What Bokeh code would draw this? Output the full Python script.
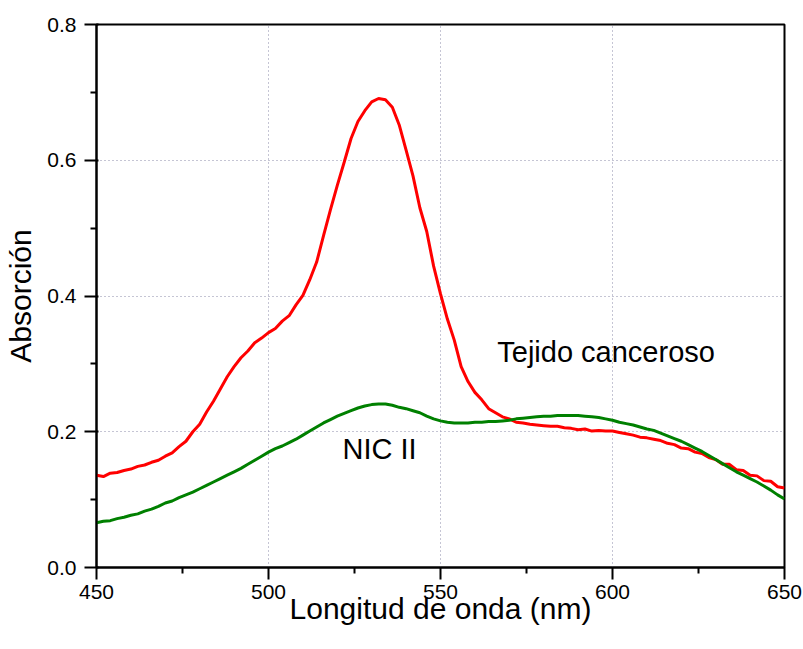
from bokeh.plotting import figure
from bokeh.models import Range1d, Label, NumeralTickFormatter, FixedTicker
from bokeh.embed import file_html
from bokeh.resources import INLINE

# wavelength grid (nm), every 2 nm from 450 to 650
wavelength = list(range(450, 651, 2))

tejido_canceroso = [
    0.136, 0.134, 0.139, 0.140, 0.143, 0.145, 0.149, 0.151, 0.155, 0.158,
    0.164, 0.169, 0.178, 0.186, 0.200, 0.211, 0.229, 0.245, 0.263, 0.281,
    0.296, 0.309, 0.319, 0.331, 0.338, 0.346, 0.352, 0.363, 0.371, 0.387,
    0.401, 0.424, 0.450, 0.489, 0.527, 0.563, 0.597, 0.632, 0.657, 0.673,
    0.686, 0.691, 0.689, 0.678, 0.652, 0.615, 0.577, 0.530, 0.495, 0.444,
    0.403, 0.366, 0.335, 0.296, 0.274, 0.258, 0.247, 0.234, 0.228, 0.222,
    0.219, 0.214, 0.213, 0.211, 0.210, 0.209, 0.208, 0.208, 0.206, 0.205,
    0.203, 0.204, 0.201, 0.202, 0.201, 0.201, 0.199, 0.197, 0.195, 0.192,
    0.191, 0.189, 0.187, 0.183, 0.181, 0.176, 0.175, 0.170, 0.168, 0.162,
    0.159, 0.152, 0.152, 0.144, 0.143, 0.136, 0.135, 0.128, 0.127, 0.119,
    0.117,
]

nic_ii = [
    0.066, 0.068, 0.069, 0.072, 0.074, 0.077, 0.079, 0.083, 0.086, 0.090,
    0.095, 0.098, 0.103, 0.107, 0.111, 0.116, 0.121, 0.126, 0.131, 0.136,
    0.141, 0.146, 0.152, 0.158, 0.164, 0.170, 0.175, 0.179, 0.184, 0.189,
    0.195, 0.201, 0.207, 0.213, 0.218, 0.223, 0.227, 0.231, 0.235, 0.238,
    0.240, 0.241, 0.241, 0.239, 0.236, 0.234, 0.231, 0.228, 0.223, 0.219,
    0.216, 0.214, 0.213, 0.213, 0.213, 0.214, 0.214, 0.215, 0.215, 0.216,
    0.217, 0.219, 0.220, 0.221, 0.222, 0.223, 0.223, 0.224, 0.224, 0.224,
    0.224, 0.223, 0.222, 0.221, 0.219, 0.217, 0.214, 0.212, 0.210, 0.207,
    0.204, 0.202, 0.198, 0.194, 0.190, 0.186, 0.181, 0.176, 0.171, 0.165,
    0.159, 0.153, 0.147, 0.141, 0.136, 0.131, 0.126, 0.120, 0.114, 0.107,
    0.101,
]

x_ticks = [450, 500, 550, 600, 650]
x_minor = [475, 525, 575, 625]
y_ticks = [0.0, 0.2, 0.4, 0.6, 0.8]
y_minor = [0.1, 0.3, 0.5, 0.7]

FONT = "Liberation Sans"

p = figure(width=803, height=649, output_backend="svg", toolbar_location=None,
           x_range=Range1d(450, 650), y_range=Range1d(0, 0.8),
           min_border_left=96, min_border_right=19, min_border_top=24, min_border_bottom=82,
           x_axis_label="Longitud de onda (nm)", y_axis_label="Absorción")
p.outline_line_color = "black"
p.outline_line_width = 2

p.line(wavelength, tejido_canceroso, line_color="#ff0000", line_width=3)
p.line(wavelength, nic_ii, line_color="#008000", line_width=3)

for ax in (p.xaxis[0], p.yaxis[0]):
    ax.axis_line_color = "black"
    ax.axis_line_width = 2
    ax.major_tick_line_color = "black"
    ax.minor_tick_line_color = "black"
    ax.major_tick_line_width = 2
    ax.minor_tick_line_width = 2
    ax.major_tick_out = 12
    ax.minor_tick_out = 6
    ax.major_label_text_font = FONT
    ax.major_label_text_font_size = "21px"
    ax.major_label_text_color = "black"
    ax.axis_label_text_font = FONT
    ax.axis_label_text_font_size = "30px"
    ax.axis_label_text_font_style = "normal"
    ax.axis_label_text_color = "black"

p.xaxis[0].major_tick_in = 0
p.xaxis[0].minor_tick_in = 0

p.xaxis[0].ticker = FixedTicker(ticks=x_ticks, minor_ticks=x_minor)
p.yaxis[0].ticker = FixedTicker(ticks=y_ticks, minor_ticks=y_minor)
p.yaxis[0].formatter = NumeralTickFormatter(format="0.0")
p.xaxis[0].major_label_standoff = 5
p.yaxis[0].major_label_standoff = 8
p.xaxis[0].axis_label_standoff = -10
p.yaxis[0].axis_label_standoff = 7

p.xgrid.ticker = FixedTicker(ticks=x_ticks)
p.ygrid.ticker = FixedTicker(ticks=y_ticks)
for g in (p.xgrid, p.ygrid):
    g.grid_line_color = "#8a8aa8"
    g.grid_line_dash = "1 3"
    g.grid_line_width = 1

p.add_layout(Label(x=566.5, y=0.318, text="Tejido canceroso", text_font=FONT,
                   text_font_size="29px", text_baseline="middle", text_color="black"))
p.add_layout(Label(x=521.5, y=0.175, text="NIC II", text_font=FONT,
                   text_font_size="29px", text_baseline="middle", text_color="black"))

open("out.html", "w").write(file_html(p, INLINE))
